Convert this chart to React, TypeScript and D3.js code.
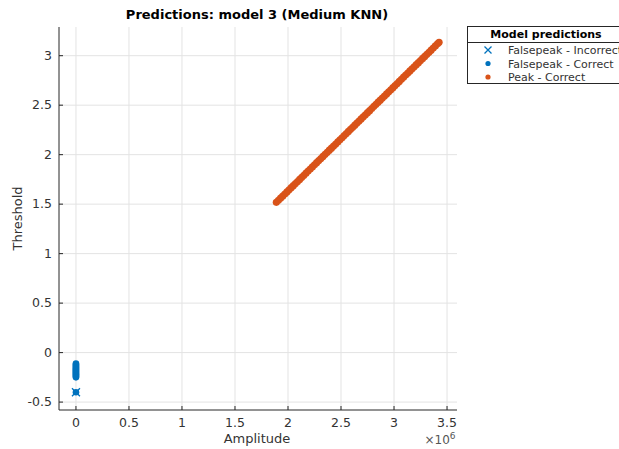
import React from "react";
import * as d3 from "d3";

const W = 619, H = 449;
const peakAmp = [1.89,1.91,1.93,1.95,1.97,1.99,2.01,2.03,2.05,2.07,2.09,2.11,2.13,2.15,2.17,2.19,2.21,2.23,2.25,2.27,2.29,2.31,2.33,2.35,2.37,2.39,2.41,2.43,2.45,2.47,2.49,2.51,2.53,2.55,2.57,2.59,2.61,2.63,2.65,2.67,2.69,2.71,2.73,2.75,2.77,2.79,2.81,2.83,2.85,2.87,2.89,2.91,2.93,2.95,2.97,2.99,3.01,3.03,3.05,3.07,3.09,3.11,3.13,3.15,3.17,3.19,3.21,3.23,3.25,3.27,3.29,3.31,3.33,3.35,3.37,3.39,3.41,3.425];
const peakThr = [1.518,1.539,1.560,1.581,1.602,1.624,1.645,1.666,1.687,1.708,1.729,1.750,1.771,1.792,1.813,1.834,1.855,1.876,1.897,1.919,1.940,1.961,1.982,2.003,2.024,2.045,2.066,2.087,2.108,2.129,2.150,2.171,2.193,2.214,2.235,2.256,2.277,2.298,2.319,2.340,2.361,2.382,2.403,2.424,2.445,2.466,2.488,2.509,2.530,2.551,2.572,2.593,2.614,2.635,2.656,2.677,2.698,2.719,2.740,2.762,2.783,2.804,2.825,2.846,2.867,2.888,2.909,2.930,2.951,2.972,2.993,3.014,3.035,3.056,3.078,3.099,3.120,3.136];
const fpCorrectAmp = [0,0,0,0,0,0,0,0,0,0,0,0,0,0,0,0];
const fpCorrectThr = [-0.11,-0.12,-0.13,-0.14,-0.15,-0.16,-0.17,-0.18,-0.19,-0.20,-0.21,-0.22,-0.23,-0.24,-0.25,-0.40];
const fpIncorrectAmp = [0];
const fpIncorrectThr = [-0.40];
const xTicks = [0,0.5,1,1.5,2,2.5,3,3.5];
const yTicks = [-0.5,0,0.5,1,1.5,2,2.5,3];
const legendLabels = ["Falsepeak - Incorrect","Falsepeak - Correct","Peak - Correct"];

const BLUE = "#0072BD", ORANGE = "#D95319";
const FONT = "DejaVu Sans, sans-serif";

export default function App() {
  const left = 59, right = 457, top = 27, bottom = 410;
  const x = d3.scaleLinear().domain([-0.16, 3.594]).range([left, right]);
  const y = d3.scaleLinear().domain([-0.58, 3.29]).range([bottom, top]);
  const ax = "#262626";
  return (
    <svg width={W} height={H} style={{position:"absolute",left:0,top:0,background:"#fff"}} fontFamily={FONT}>
      <rect x={0} y={0} width={W} height={H} fill="#fff"/>
      {xTicks.map(t => <line key={"gx"+t} x1={x(t)} x2={x(t)} y1={top} y2={bottom} stroke="#e3e3e3" strokeWidth={1}/>)}
      {yTicks.map(t => <line key={"gy"+t} x1={left} x2={right} y1={y(t)} y2={y(t)} stroke="#e3e3e3" strokeWidth={1}/>)}
      {peakAmp.map((a,i) => <circle key={"p"+i} cx={x(a)} cy={y(peakThr[i])} r={3.6} fill={ORANGE}/>)}
      {fpCorrectAmp.map((a,i) => <circle key={"c"+i} cx={x(a)} cy={y(fpCorrectThr[i])} r={3.3} fill={BLUE}/>)}
      {fpIncorrectAmp.map((a,i) => {
        const cx = x(a), cy = y(fpIncorrectThr[i]), s = 4;
        return <path key={"i"+i} d={`M${cx-s},${cy-s}L${cx+s},${cy+s}M${cx-s},${cy+s}L${cx+s},${cy-s}`} stroke={BLUE} strokeWidth={1.3} fill="none"/>;
      })}
      <line x1={left} x2={left} y1={top} y2={bottom} stroke={ax} strokeWidth={1}/>
      <line x1={left} x2={right} y1={bottom} y2={bottom} stroke={ax} strokeWidth={1}/>
      {xTicks.map(t => (
        <g key={"xt"+t}>
          <line x1={x(t)} x2={x(t)} y1={bottom} y2={bottom-4} stroke={ax}/>
          <text x={x(t)} y={bottom+17} textAnchor="middle" fontSize={12.5} fill="#333">{t}</text>
        </g>
      ))}
      {yTicks.map(t => (
        <g key={"yt"+t}>
          <line x1={left} x2={left+4} y1={y(t)} y2={y(t)} stroke={ax}/>
          <text x={left-7} y={y(t)+4} textAnchor="end" fontSize={12.5} fill="#333">{t}</text>
        </g>
      ))}
      <text x={440} y={444} fontSize={12} fill="#555" textAnchor="middle">×10<tspan dy={-5} fontSize={9}>6</tspan></text>
      <text x={257} y={443} textAnchor="middle" fontSize={13} fill="#333">Amplitude</text>
      <text transform={`translate(22,${(top+bottom)/2}) rotate(-90)`} textAnchor="middle" fontSize={13} fill="#333">Threshold</text>
      <text x={257} y={19} textAnchor="middle" fontSize={13} fontWeight="bold" fill="#000">Predictions: model 3 (Medium KNN)</text>
      <g>
        <rect x={467.5} y={26.5} width={170} height={57} fill="#fff" stroke={ax} strokeWidth={1}/>
        <text x={546} y={38} textAnchor="middle" fontSize={11} fontWeight="bold" fill="#000">Model predictions</text>
        <line x1={467.5} x2={640} y1={42.5} y2={42.5} stroke={ax} strokeWidth={1}/>
        {legendLabels.map((l,i) => {
          const ly = 50 + i*13.5, lx = 488;
          return (
            <g key={l}>
              {i === 0
                ? <path d={`M${lx-3.5},${ly-3.5}L${lx+3.5},${ly+3.5}M${lx-3.5},${ly+3.5}L${lx+3.5},${ly-3.5}`} stroke={BLUE} strokeWidth={1.3}/>
                : <circle cx={lx} cy={ly} r={2.6} fill={i===1?BLUE:ORANGE}/>}
              <text x={508} y={ly+4} fontSize={11} fill="#333">{l}</text>
            </g>
          );
        })}
      </g>
    </svg>
  );
}
